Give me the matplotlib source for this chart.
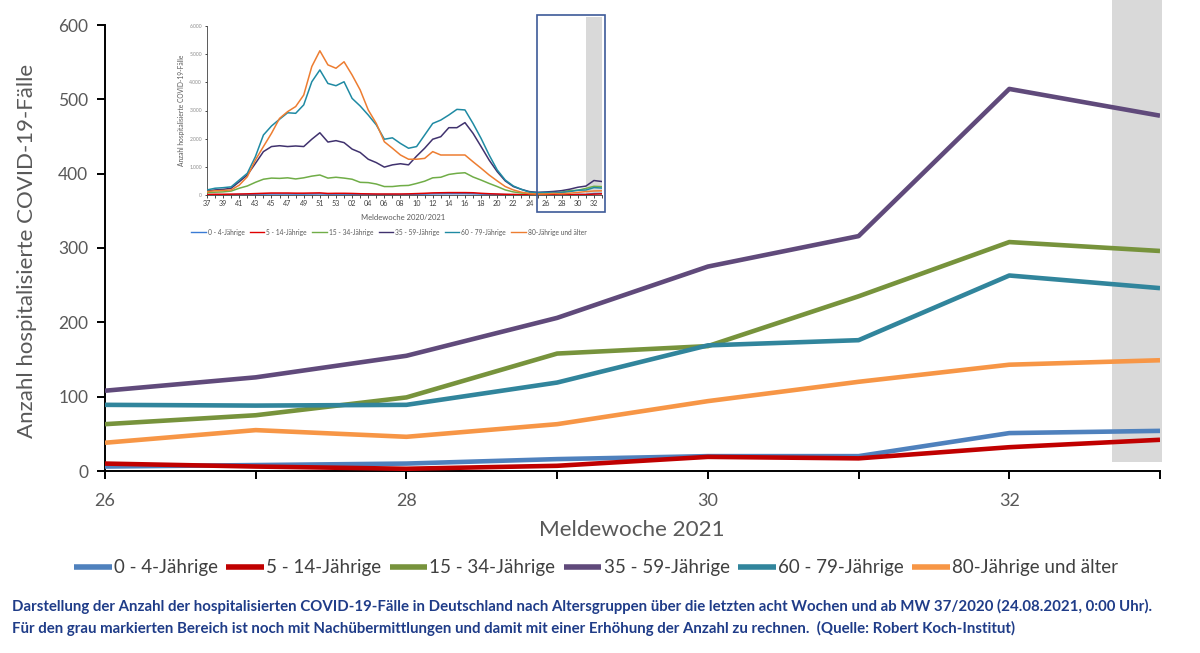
import matplotlib
matplotlib.use("Agg")
import matplotlib.pyplot as plt
from matplotlib.patches import Rectangle
from matplotlib.ticker import FixedLocator, FuncFormatter, MultipleLocator

# ---------------- data ----------------
weeks = [26, 27, 28, 29, 30, 31, 32, 33]
age_groups = ["0 - 4-Jährige", "5 - 14-Jährige", "15 - 34-Jährige",
              "35 - 59-Jährige", "60 - 79-Jährige", "80-Jährige und älter"]

cases_0_4 = [6, 8, 10, 16, 20, 20, 51, 54]
cases_5_14 = [10, 6, 3, 7, 19, 17, 32, 42]
cases_15_34 = [63, 75, 99, 158, 168, 235, 308, 296]
cases_35_59 = [108, 126, 155, 206, 275, 316, 514, 478]
cases_60_79 = [89, 88, 89, 119, 169, 176, 263, 246]
cases_80plus = [38, 55, 46, 63, 94, 120, 143, 149]

# inset: MW 37/2020 ... 25/2021 (then continues with the main values 26..33)
inset_week_labels = [str(w) for w in range(37, 54)] + ["%02d" % w for w in range(1, 34)]
early_0_4 = [10, 12, 12, 15, 18, 22, 28, 32, 35, 35, 35, 32, 32, 35, 38, 30, 30,
             30, 28, 25, 22, 20, 20, 20, 20, 22, 28, 32, 40, 42, 45, 45, 45, 42,
             32, 25, 20, 15, 10, 8, 6, 5]
early_5_14 = [20, 25, 25, 30, 35, 40, 50, 60, 70, 70, 70, 65, 65, 70, 75, 55, 60,
              60, 55, 45, 40, 35, 35, 35, 35, 40, 50, 60, 75, 80, 85, 85, 85, 80,
              60, 45, 35, 25, 20, 15, 12, 10]
early_15_34 = [80, 100, 110, 140, 240, 320, 450, 560, 600, 590, 610, 570, 610, 670,
               710, 600, 630, 600, 560, 450, 440, 390, 300, 300, 330, 340, 410, 490,
               610, 630, 730, 770, 790, 640, 530, 410, 300, 180, 110, 70, 55, 50]
early_35_59 = [140, 180, 200, 240, 470, 710, 1120, 1540, 1720, 1750, 1720, 1740,
               1720, 1980, 2210, 1880, 1930, 1860, 1630, 1510, 1270, 1150, 990, 1070,
               1110, 1070, 1380, 1660, 1980, 2070, 2390, 2390, 2570, 2190, 1720, 1240,
               830, 500, 300, 200, 120, 95]
early_60_79 = [180, 240, 260, 290, 530, 770, 1360, 2130, 2450, 2690, 2920, 2900,
               3200, 4020, 4440, 3960, 3880, 4020, 3430, 3160, 2840, 2490, 1980, 2030,
               1830, 1660, 1720, 2130, 2540, 2660, 2840, 3040, 3020, 2540, 2010, 1420,
               890, 530, 320, 200, 100, 80]
early_80plus = [120, 150, 160, 180, 350, 650, 1240, 1720, 2190, 2720, 2960, 3140,
                3550, 4560, 5120, 4620, 4500, 4730, 4260, 3730, 3020, 2540, 1890, 1660,
                1420, 1270, 1270, 1300, 1540, 1420, 1420, 1420, 1420, 1180, 950, 710,
                500, 300, 180, 100, 50, 35]

main_series = [cases_0_4, cases_5_14, cases_15_34, cases_35_59, cases_60_79, cases_80plus]
inset_series = [e + m for e, m in zip(
    [early_0_4, early_5_14, early_15_34, early_35_59, early_60_79, early_80plus],
    main_series)]

main_colors = ["#4F81BD", "#C00000", "#77933C", "#604A7B", "#31859C", "#F79646"]
inset_colors = ["#3A7BD5", "#E00000", "#70AD47", "#40326E", "#1F8AA3", "#ED7D31"]

W, H = 1200, 653
fig = plt.figure(figsize=(W / 100, H / 100), dpi=100)
FONT = ["Lato", "DejaVu Sans"]
plt.rcParams["font.family"] = FONT
GREY = "#595959"


def px_box(x0, y0, x1, y1):
    return [x0 / W, 1 - y1 / H, (x1 - x0) / W, (y1 - y0) / H]


# ---------------- main axes ----------------
ax = fig.add_axes(px_box(105, 25, 1160, 471))
for vals, col, lab in zip(main_series, main_colors, age_groups):
    ax.plot(weeks, vals, color=col, lw=3.3, label=lab,
            solid_joinstyle="round", solid_capstyle="butt", zorder=3)

ax.set_xlim(26, 33)
ax.set_ylim(0, 600)
ax.axvspan(32.68, 33.01, ymin=12 / 600, ymax=471 / 446, color="#D9D9D9",
           zorder=0, clip_on=False, lw=0)
for s in ["top", "right"]:
    ax.spines[s].set_visible(False)
for s in ["left", "bottom"]:
    ax.spines[s].set_linewidth(1.4)
    ax.spines[s].set_color("black")
ax.xaxis.set_major_locator(MultipleLocator(1))
ax.xaxis.set_major_formatter(FuncFormatter(lambda v, p: "%d" % v if int(round(v)) % 2 == 0 and v < 33 else ""))
ax.yaxis.set_major_locator(MultipleLocator(100))
ax.tick_params(axis="both", direction="out", length=6, width=1.4, colors="black",
               labelcolor=GREY, labelsize=12.5)
ax.tick_params(axis="x", pad=10, labelsize=13)
ax.tick_params(axis="y", pad=6)
ax.set_facecolor("none")

ylab = fig.text(27 / W, 1 - 251 / H, "Anzahl hospitalisierte COVID-19-Fälle",
                rotation=90, ha="center", va="center", color=GREY, fontsize=16)
xlab = fig.text(632 / W, 1 - 530 / H, "Meldewoche 2021", ha="center", va="center",
                color=GREY, fontsize=13)

leg = fig.legend(*ax.get_legend_handles_labels(), loc="center",
                 bbox_to_anchor=(596 / W, 1 - 568 / H), ncol=6, frameon=False,
                 handlelength=2.0, handletextpad=0.12, columnspacing=0.45,
                 prop={"size": 13.5})
for t in leg.get_texts():
    t.set_color("#404040")
for l in leg.get_lines():
    l.set_linewidth(4)

FOOT = "#1F3C88"
foot1 = fig.text(12 / W, 1 - 606 / H,
                 "Darstellung der Anzahl der hospitalisierten COVID-19-Fälle in Deutschland nach "
                 "Altersgruppen über die letzten acht Wochen und ab MW 37/2020 (24.08.2021, 0:00 Uhr).",
                 ha="left", va="center", color=FOOT, fontweight="bold", fontsize=10)
foot2 = fig.text(12 / W, 1 - 628 / H,
                 "Für den grau markierten Bereich ist noch mit Nachübermittlungen und damit mit einer "
                 "Erhöhung der Anzahl zu rechnen.  (Quelle: Robert Koch-Institut)",
                 ha="left", va="center", color=FOOT, fontweight="bold", fontsize=10)

# ---------------- inset ----------------
ia = fig.add_axes(px_box(207, 26, 602, 195))
ix = list(range(len(inset_week_labels)))
for vals, col, lab in zip(inset_series, inset_colors, age_groups):
    ia.plot(ix, vals, color=col, lw=1.1, label=lab, solid_joinstyle="round", zorder=3)
ia.set_xlim(0, len(ix) - 1)
ia.set_ylim(0, 6000)
ia.axvspan(47, 49, ymin=0, ymax=(195 - 17) / 169, color="#D9D9D9", zorder=0,
           clip_on=False, lw=0)
for s in ["top", "right"]:
    ia.spines[s].set_visible(False)
for s in ["left", "bottom"]:
    ia.spines[s].set_linewidth(0.6)
    ia.spines[s].set_color("#404040")
ia.xaxis.set_major_locator(FixedLocator(ix[::2]))
ia.xaxis.set_major_formatter(FuncFormatter(lambda v, p: inset_week_labels[int(round(v))]))
ia.xaxis.set_minor_locator(MultipleLocator(1))
ia.yaxis.set_major_locator(MultipleLocator(1000))
ia.yaxis.set_major_formatter(FuncFormatter(lambda v, p: "{:,}".format(int(v)).replace(",", ".")))
ia.tick_params(axis="x", which="both", direction="out", length=2, width=0.5,
               labelsize=5.2, labelcolor="#404040", pad=1.5)
ia.tick_params(axis="y", direction="out", length=1.5, width=0.5, labelsize=3.6,
               labelcolor="#8C8C8C", pad=2)
ia.set_facecolor("none")
ia.set_ylabel("Anzahl hospitalisierte COVID-19-Fälle", fontsize=4.8, color=GREY, labelpad=3)
fig.text(403 / W, 1 - 218 / H, "Meldewoche 2020/2021", ha="center", va="center",
         fontsize=5.5, color=GREY)
ileg = fig.legend(*ia.get_legend_handles_labels(), loc="center",
                  bbox_to_anchor=(389 / W, 1 - 232 / H), ncol=6, frameon=False,
                  handlelength=2.2, handletextpad=0.3, columnspacing=0.8,
                  prop={"size": 4.75})
for t in ileg.get_texts():
    t.set_color(GREY)
for l in ileg.get_lines():
    l.set_linewidth(1.0)

fig.patches.append(Rectangle((537 / W, 1 - 212 / H), (605 - 537) / W, (212 - 15) / H,
                             transform=fig.transFigure, fill=False,
                             edgecolor="#3D5A98", lw=1.2, zorder=10))

# ---------------- fit text widths to the reference layout ----------------
fig.canvas.draw()
r = fig.canvas.get_renderer()


def fit_w(t, target, horizontal=True):
    bb = t.get_window_extent(r)
    w = bb.width if horizontal else bb.height
    t.set_fontsize(t.get_fontsize() * target / w)


fit_w(ylab, 375, horizontal=False)
fit_w(xlab, 185)
fit_w(foot1, 1146)
foot2.set_fontsize(foot1.get_fontsize())

fig.savefig("out.png", dpi=100, facecolor="white")
